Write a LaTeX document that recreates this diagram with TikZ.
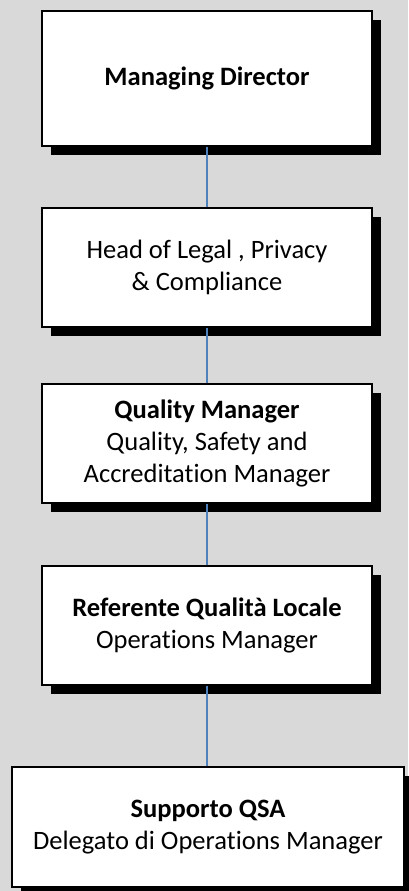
\documentclass[tikz,border=0pt]{standalone}
\usepackage{fontspec}
\setmainfont{Carlito}[Ligatures={NoCommon}]
\usetikzlibrary{shadows}

\begin{document}
\begin{tikzpicture}[x=0.75pt,y=0.75pt,yscale=-1,xscale=1,
    orgbox/.style={draw=black,line width=1.5pt,fill=white,align=center,inner sep=0pt,
        minimum width=247.5pt,minimum height=89.25pt,
        font=\fontsize{19.9}{24}\selectfont,
        drop shadow={shadow xshift=6.75pt,shadow yshift=-6.75pt,fill=black,opacity=1}},
    link/.style={draw={rgb, 255:red, 79; green, 129; blue, 189 },line width=0.9pt}]
        %uncomment if require: \path (0,891); %set diagram left start at 0, and has height of 891

        %Shape: Rectangle [background]
        \fill [fill={rgb, 255:red, 217; green, 217; blue, 217 }] (0,0) rectangle (408,891) ;
        \useasboundingbox (0,0) rectangle (408,891) ;

        %Shape: Rectangle [Managing Director]
        \node [orgbox,minimum height=101.25pt] (director) at (207,78.5) {\textbf{Managing Director}};
        %Shape: Rectangle [Legal]
        \node [orgbox] (legal) at (207,267.5) {Head of Legal , Privacy\\ \& Compliance};
        %Shape: Rectangle [Quality Manager]
        \node [orgbox] (quality) at (207,443.5) {\textbf{Quality Manager}\\ Quality, Safety and\\ Accreditation Manager};
        %Shape: Rectangle [Referente]
        \node [orgbox] (referente) at (207,625.5) {\textbf{Referente Qualità Locale}\\ Operations Manager};
        %Shape: Rectangle [Supporto]
        \node [orgbox,minimum width=294pt,minimum height=90pt] (supporto) at (208,827) {\textbf{Supporto QSA}\\ Delegato di Operations Manager};

        %Straight Lines
        \draw [link] (director.south) -- (legal.north) ;
        %Straight Lines
        \draw [link] (legal.south) -- (quality.north) ;
        %Straight Lines
        \draw [link] (quality.south) -- (referente.north) ;
        %Straight Lines
        \draw [link] (referente.south) -- (referente.south |- supporto.north) ;

\end{tikzpicture}
\end{document}
